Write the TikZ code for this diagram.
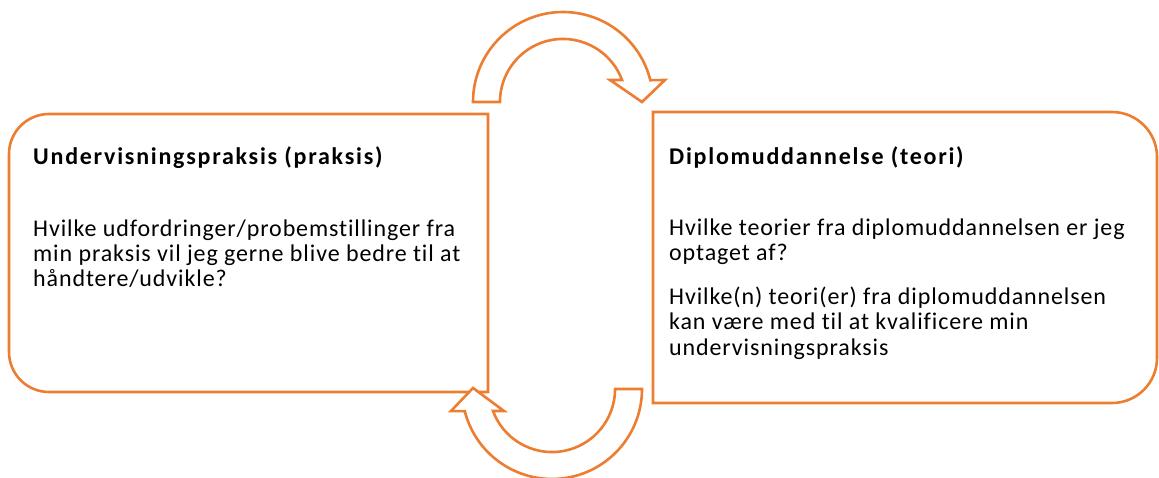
\documentclass[tikz,border=0pt]{standalone}
\usepackage{fontspec}
\setmainfont{Carlito}

\definecolor{kant}{HTML}{ED7D31}

\tikzstyle{boks}=[draw=kant, line width=2.6pt, line join=miter]
\tikzstyle{pil}=[draw=kant, line width=2.6pt, fill=white, line join=miter]
\tikzstyle{tekst}=[anchor=base west, inner sep=0pt, align=left,
                   font=\fontsize{24}{25.3}\selectfont\addfontfeatures{LetterSpace=3.7, Ligatures=NoCommon}]
\tikzstyle{titel}=[anchor=base west, inner sep=0pt,
                   font=\fontsize{24}{25.3}\selectfont\bfseries\addfontfeatures{LetterSpace=7.3, Ligatures=NoCommon}]

\begin{document}
\begin{tikzpicture}[x=1pt, y=1pt]
  \useasboundingbox (0, 0) rectangle (1159, 477);

  % praksis
  \draw[boks] (488, 85) -- (49, 85) arc[start angle=270, end angle=180, radius=40]
    -- (9, 323) arc[start angle=180, end angle=90, radius=40] -- (488, 363) -- cycle;

  % teori
  \draw[boks] (653, 74) -- (653, 365) -- (1112, 365)
    arc[start angle=90, end angle=0, radius=45] -- (1157, 119)
    arc[start angle=0, end angle=-90, radius=45] -- cycle;

  % pil foroven
  \draw[pil] (473, 375) arc[start angle=180, end angle=14, radius=90]
    -- (665, 397) -- (642, 375) -- (610, 397) -- (622, 397)
    arc[start angle=20.4, end angle=180, radius=63] -- cycle;

  % pil forneden
  \draw[pil] (642, 88) arc[start angle=0, end angle=-165.7, radius=90]
    -- (451, 66) -- (473, 89) -- (504, 66) -- (493, 66)
    arc[start angle=-159.6, end angle=0, radius=63] -- cycle;

  \node[titel] (praksistitel) at (33, 312) {Undervisningspraksis (praksis)};
  \node[tekst] (praksistekst) at (33, 190)
    {Hvilke udfordringer/probemstillinger fra\\
     min praksis vil jeg gerne blive bedre til at\\
     håndtere/udvikle?};

  \node[titel] (teorititel) at (669, 312) {Diplomuddannelse (teori)};
  \node[tekst] (teoritekst) at (669, 216)
    {Hvilke teorier fra diplomuddannelsen er jeg\\
     optaget af?};
  \node[tekst] (teoriforslag) at (669, 122)
    {Hvilke(n) teori(er) fra diplomuddannelsen\\
     kan være med til at kvalificere min\\
     undervisningspraksis};
\end{tikzpicture}
\end{document}
